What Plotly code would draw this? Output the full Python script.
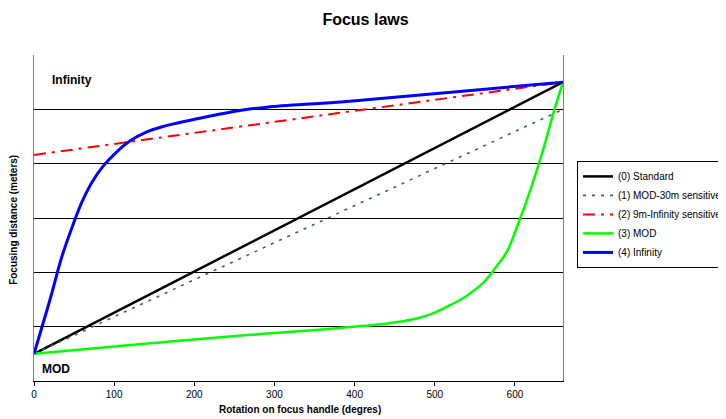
import plotly.graph_objects as go

# Data
x_standard = [0, 660]
y_standard = [0.5, 5.5]

x_mod30 = [0, 660]
y_mod30 = [0.5, 5.0]

x_9minf = [0, 660]
y_9minf = [4.16, 5.5]

x_mod = [0, 135, 270, 360, 400, 430, 460, 480, 500, 520, 540, 560, 575, 590, 605, 620, 635, 650, 660]
y_mod = [0.5, 0.68, 0.85, 0.95, 1.0, 1.04, 1.10, 1.16, 1.26, 1.40, 1.57, 1.80, 2.07, 2.38, 2.93, 3.55, 4.25, 5.03, 5.5]

x_inf = [0, 20, 35, 48, 60, 72, 86, 102, 120, 140, 160, 195, 228, 257, 291, 394, 660]
y_inf = [0.5, 1.5, 2.3, 2.85, 3.3, 3.65, 3.95, 4.2, 4.42, 4.58, 4.68, 4.80, 4.90, 4.98, 5.04, 5.15, 5.5]

x_ticks = [0, 100, 200, 300, 400, 500, 600]

FONT = "Liberation Sans, Arial, sans-serif"

fig = go.Figure()
fig.add_trace(go.Scatter(x=x_standard, y=y_standard, mode="lines", name="(0) Standard",
                         line=dict(color="#000000", width=2.5)))
fig.add_trace(go.Scatter(x=x_mod30, y=y_mod30, mode="lines", name="(1) MOD-30m sensitive",
                         line=dict(color="#336666", width=1.6, dash="3px,6px")))
fig.add_trace(go.Scatter(x=x_9minf, y=y_9minf, mode="lines", name="(2) 9m-Infinity sensitive",
                         line=dict(color="#FF0000", width=2, dash="12px,6px,3px,6px")))
fig.add_trace(go.Scatter(x=x_mod, y=y_mod, mode="lines", name="(3) MOD",
                         line=dict(color="#00FF00", width=2.5, shape="spline", smoothing=1.0)))
fig.add_trace(go.Scatter(x=x_inf, y=y_inf, mode="lines", name="(4) Infinity",
                         line=dict(color="#0000FF", width=3, shape="spline", smoothing=1.0)))

fig.add_annotation(x=19.5, y=5.54, text="<b>Infinity</b>", showarrow=False, xanchor="left",
                   yanchor="middle", font=dict(family=FONT, size=12, color="#000000"))
fig.add_annotation(x=7, y=0.22, text="<b>MOD</b>", showarrow=False, xanchor="left",
                   yanchor="middle", font=dict(family=FONT, size=12, color="#000000"))

# Axis titles as paper annotations
fig.add_annotation(xref="paper", yref="paper", x=0.503, y=-0.086, text="<b>Rotation on focus handle (degres)</b>",
                   showarrow=False, xanchor="center", yanchor="middle",
                   font=dict(family=FONT, size=10, color="#000000"))
fig.add_annotation(xref="paper", yref="paper", x=-0.038, y=0.494, text="<b>Focusing distance (meters)</b>",
                   showarrow=False, xanchor="center", yanchor="middle", textangle=-90,
                   font=dict(family=FONT, size=10, color="#000000"))

# Page has an 8px body margin; figure is wider than the window so the legend is clipped at the edge
W = 760
fig.update_layout(
    width=W, height=411,
    margin=dict(l=26, r=W - 555, t=47, b=38, autoexpand=False),
    paper_bgcolor="white", plot_bgcolor="white",
    title=dict(text="<b>Focus laws</b>", x=(365.5 - 8) / W, xanchor="center", y=0.973, yanchor="middle",
               font=dict(family=FONT, size=16, color="#000000")),
    font=dict(family=FONT, size=10, color="#000000"),
    showlegend=True,
    legend=dict(x=1.0265, xanchor="left", y=0.511, yanchor="middle",
                bordercolor="#000000", borderwidth=1, bgcolor="white",
                font=dict(family=FONT, size=10, color="#000000"),
                tracegroupgap=0, itemwidth=30),
    xaxis=dict(range=[0, 660], tickvals=x_ticks, ticks="outside", ticklen=4,
               tickcolor="#000000", showline=True, linecolor="#000000", linewidth=1,
               mirror=False, showgrid=False, zeroline=False, automargin=False,
               tickfont=dict(family=FONT, size=10, color="#000000")),
    yaxis=dict(range=[0, 6], dtick=1, showticklabels=False, ticks="",
               showline=True, linecolor="#808080", linewidth=1, mirror=True,
               showgrid=True, gridcolor="#000000", gridwidth=1, zeroline=False,
               automargin=False),
)

fig.write_html("out.html",
               post_script="document.documentElement.style.overflow='hidden';document.body.style.overflow='hidden';")
